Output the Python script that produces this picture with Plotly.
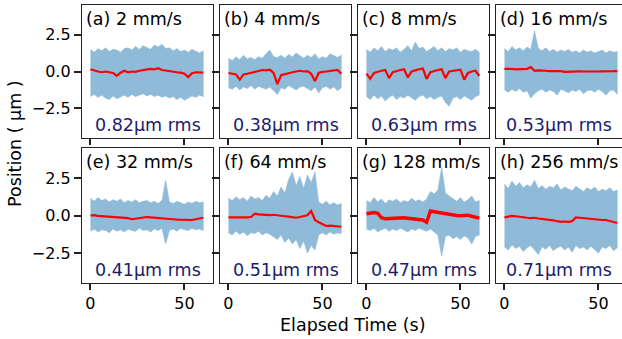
import plotly.graph_objects as go

# ---------------- data ----------------
T = [0, 2, 4, 6, 8, 10, 12, 14, 16, 18, 20, 22, 24, 26, 28, 30,
     32, 34, 36, 38, 40, 42, 44, 46, 48, 50, 52, 54, 56, 58, 60]

labels = ["(a) 2 mm/s", "(b) 4 mm/s", "(c) 8 mm/s", "(d) 16 mm/s",
          "(e) 32 mm/s", "(f) 64 mm/s", "(g) 128 mm/s", "(h) 256 mm/s"]
rms_text = ["0.82μm rms", "0.38μm rms", "0.63μm rms", "0.53μm rms",
            "0.41μm rms", "0.51μm rms", "0.47μm rms", "0.71μm rms"]

# upper / lower envelope of the raw (blue) trace
a_up = [1.5,1.3,1.55,1.4,1.6,1.35,1.5,1.45,1.3,1.55,1.6,1.45,1.7,1.5,1.75,1.6,1.5,1.8,1.65,1.85,1.55,1.6,1.4,1.55,1.35,1.45,1.3,1.5,1.35,1.25,1.4]
a_lo = [-1.7,-1.55,-1.75,-1.6,-1.8,-1.9,-1.65,-1.85,-1.7,-1.6,-1.75,-1.55,-1.7,-1.6,-1.5,-1.65,-1.55,-1.7,-1.6,-1.75,-1.65,-1.8,-1.7,-1.9,-1.75,-1.95,-1.8,-1.65,-1.75,-1.6,-1.7]
b_up = [0.9,0.75,1.0,0.8,1.1,0.85,0.95,0.8,1.0,0.9,1.2,1.45,1.0,0.95,1.1,0.9,1.15,1.0,1.25,1.05,0.9,1.1,0.95,1.2,0.85,1.0,0.9,1.2,1.05,0.95,1.1]
b_lo = [-1.1,-1.2,-1.0,-1.25,-1.05,-1.15,-0.95,-1.2,-1.0,-1.1,-1.2,-1.05,-1.3,-1.56,-1.1,-1.2,-0.95,-1.1,-1.25,-1.05,-1.0,-1.15,-1.3,-1.05,-1.45,-1.1,-1.0,-1.2,-1.05,-1.3,-1.1]
c_up = [1.5,1.3,1.6,1.4,1.7,1.35,1.55,1.45,1.6,1.3,1.5,1.75,1.4,2.0,1.55,1.65,1.35,1.5,1.7,1.4,1.6,1.35,1.55,1.45,1.6,1.3,1.5,1.4,1.35,1.5,1.3]
c_lo = [-1.7,-1.9,-1.6,-1.85,-1.65,-2.0,-1.75,-1.6,-1.9,-1.7,-1.8,-1.6,-1.75,-1.95,-1.7,-1.6,-1.85,-1.7,-1.9,-1.75,-1.65,-2.1,-2.35,-1.8,-1.7,-1.9,-1.65,-1.8,-1.95,-1.7,-1.6]
d_up = [1.55,1.35,1.7,1.45,1.6,1.4,1.65,1.5,2.75,1.55,1.4,1.6,1.35,1.5,1.3,1.45,1.35,1.5,1.3,1.4,1.25,1.45,1.3,1.4,1.25,1.35,1.45,1.25,1.4,1.3,1.35]
d_lo = [-1.25,-1.4,-1.2,-1.35,-1.15,-1.4,-1.3,-1.8,-1.5,-1.3,-1.2,-1.4,-1.25,-1.35,-1.6,-1.2,-1.3,-1.45,-1.25,-1.35,-1.2,-1.5,-1.3,-1.25,-1.4,-1.2,-1.35,-1.6,-1.3,-1.25,-1.55]
e_up = [1.15,0.95,1.2,1.0,1.1,0.9,1.05,0.95,1.1,0.85,1.0,0.9,1.05,0.85,0.95,1.0,0.85,0.95,0.8,1.0,2.35,0.9,0.8,0.95,0.85,0.75,0.9,0.8,0.95,0.85,0.9]
e_lo = [-1.05,-0.9,-1.1,-0.95,-1.0,-1.15,-0.9,-1.05,-0.95,-1.1,-0.9,-1.0,-1.05,-0.85,-1.0,-0.95,-1.1,-0.9,-1.0,-0.85,-1.9,-1.0,-0.9,-1.05,-0.85,-0.95,-1.0,-0.85,-0.95,-0.9,-1.0]
f_up = [1.15,1.0,1.25,1.05,1.2,0.95,1.3,1.1,1.2,1.0,1.35,1.15,1.6,1.3,1.9,1.5,2.4,2.9,2.0,2.6,1.8,2.7,2.2,2.9,0.9,0.75,0.95,0.7,0.85,0.7,0.8]
f_lo = [-1.15,-1.3,-1.05,-1.25,-1.1,-1.35,-1.15,-1.2,-1.05,-1.3,-1.15,-1.25,-1.4,-1.6,-1.3,-1.8,-1.5,-1.9,-1.6,-2.2,-1.7,-2.5,-2.0,-2.3,-1.3,-1.15,-1.3,-1.1,-1.25,-1.15,-1.2]
g_up = [1.0,0.85,1.2,0.9,1.1,0.8,1.05,0.95,1.1,0.85,1.0,0.9,1.15,0.95,1.05,0.9,1.1,1.6,1.45,1.7,3.2,1.5,1.3,1.1,0.95,1.2,0.9,1.05,1.3,0.9,1.0]
g_lo = [-0.9,-1.0,-0.85,-1.1,-0.95,-0.85,-1.05,-0.9,-1.0,-0.85,-0.95,-1.1,-0.9,-1.0,-0.85,-0.95,-1.05,-0.9,-1.1,-1.3,-2.7,-1.4,-1.3,-1.55,-1.4,-1.6,-1.35,-1.5,-1.9,-1.4,-1.3]
h_up = [2.1,1.8,2.3,1.95,2.2,1.85,2.05,1.9,2.35,1.8,2.0,1.75,1.95,1.85,2.1,1.7,1.9,1.8,1.65,1.95,1.75,1.6,1.85,1.7,1.9,1.6,1.75,1.65,1.85,1.6,1.7]
h_lo = [-2.1,-2.3,-1.95,-2.2,-2.05,-2.4,-2.15,-2.0,-2.3,-2.6,-2.1,-2.25,-2.0,-2.35,-2.15,-2.05,-2.3,-2.1,-2.45,-2.0,-2.2,-2.1,-2.3,-2.05,-2.25,-2.5,-2.1,-2.2,-2.0,-2.35,-2.15]

# smoothed (red) trace
a_red = [0.15,0.05,0.0,-0.05,0.0,-0.05,-0.1,-0.3,-0.08,0.05,-0.05,0.0,-0.02,0.05,0.1,0.12,0.18,0.15,0.22,0.1,0.05,0.02,-0.02,-0.05,-0.08,-0.15,-0.38,-0.12,-0.05,-0.08,-0.07]
b_red = [-0.1,-0.15,-0.2,-0.55,-0.2,-0.15,-0.1,-0.05,0.05,0.1,0.08,0.12,-0.1,-0.85,-0.25,-0.2,-0.15,-0.05,0.0,0.05,0.0,0.02,-0.15,-0.65,-0.1,-0.02,0.0,0.05,0.08,0.1,-0.15]
c_red = [-0.15,-0.5,-0.1,0.0,0.05,0.1,-0.45,-0.05,0.05,0.1,0.15,-0.4,0.0,0.1,0.15,0.2,-0.5,-0.05,0.05,0.1,0.15,-0.45,0.0,0.05,0.1,0.12,-0.55,-0.1,0.0,0.05,-0.3]
d_red = [0.18,0.15,0.17,0.15,0.16,0.15,0.18,0.3,0.05,0.08,0.04,0.05,0.02,0.03,0.0,0.02,-0.02,0.0,-0.02,0.0,0.01,0.0,-0.01,0.0,0.02,0.0,0.01,0.0,0.02,0.02,0.03]
e_red = [0.0,0.02,-0.03,-0.05,-0.05,-0.08,-0.1,-0.12,-0.12,-0.15,-0.18,-0.25,-0.22,-0.15,-0.12,-0.1,-0.12,-0.15,-0.18,-0.2,-0.2,-0.22,-0.25,-0.27,-0.28,-0.3,-0.28,-0.3,-0.25,-0.2,-0.15]
f_red = [-0.12,-0.13,-0.1,-0.12,-0.14,-0.12,-0.1,0.12,0.08,0.05,0.06,0.03,0.05,0.0,-0.02,-0.05,-0.08,-0.1,-0.15,-0.1,-0.03,0.02,0.3,-0.3,-0.45,-0.6,-0.7,-0.68,-0.7,-0.72,-0.75]
g_red = [0.12,0.15,0.2,0.15,-0.15,-0.22,-0.2,-0.18,-0.15,-0.17,-0.15,-0.18,-0.2,-0.22,-0.25,-0.3,-0.45,0.3,0.25,0.2,0.18,0.12,0.08,0.05,0.0,-0.02,0.0,0.02,-0.05,-0.12,-0.18]
h_red = [-0.12,-0.08,-0.03,-0.05,-0.1,-0.12,-0.15,-0.17,-0.15,-0.2,-0.22,-0.25,-0.28,-0.32,-0.38,-0.42,-0.4,-0.42,-0.38,-0.13,-0.15,-0.18,-0.2,-0.22,-0.25,-0.28,-0.3,-0.3,-0.35,-0.42,-0.5]

uppers = [a_up, b_up, c_up, d_up, e_up, f_up, g_up, h_up]
lowers = [a_lo, b_lo, c_lo, d_lo, e_lo, f_lo, g_lo, h_lo]
reds = [a_red, b_red, c_red, d_red, e_red, f_red, g_red, h_red]

y_ticks = [-2.5, 0.0, 2.5]
y_tick_text = ["\u22122.5", "0.0", "2.5"]
x_ticks = [0, 50]

# ---------------- figure ----------------
W, H = 622, 339
L, R, TOP, BOT = 82, 0, 5, 56
pw = W - L - R
ph = H - TOP - BOT
col_px = [(82, 213), (220, 351), (358, 489), (496, 622)]
row_px = [(5, 138), (148, 283)]
px_per_s = 1.88
x_left = -4.5

FONT = "DejaVu Sans"
BLUE = "#8fbbd9"
RED = "#ff0000"
NAVY = "#1c1c6b"
FRAME = "#222222"

fig = go.Figure()
layout = dict(width=W, height=H, margin=dict(l=L, r=R, t=TOP, b=BOT),
              paper_bgcolor="white", plot_bgcolor="white", showlegend=False,
              font=dict(family=FONT, size=16, color="black"))
annotations = []

for i in range(8):
    r, c = divmod(i, 4)
    k = i + 1
    xa = "xaxis" if k == 1 else f"xaxis{k}"
    ya = "yaxis" if k == 1 else f"yaxis{k}"
    xr = "x" if k == 1 else f"x{k}"
    yr = "y" if k == 1 else f"y{k}"
    x0p, x1p = col_px[c]
    y0p, y1p = row_px[r]
    xdom = [(x0p - L) / pw, min(1.0, (x1p - L) / pw)]
    ydom = [(H - BOT - y1p) / ph, (H - BOT - y0p) / ph]
    xrange = [x_left, x_left + (x1p - x0p) / px_per_s]

    fig.add_trace(go.Scatter(x=T + T[::-1], y=uppers[i] + lowers[i][::-1],
                             fill="toself", fillcolor=BLUE, mode="lines",
                             line=dict(width=0.6, color=BLUE),
                             xaxis=xr, yaxis=yr, hoverinfo="skip"))
    fig.add_trace(go.Scatter(x=T, y=reds[i], mode="lines",
                             line=dict(color=RED, width=3.4 if i == 6 else 2.2),
                             xaxis=xr, yaxis=yr))

    layout[xa] = dict(domain=xdom, range=xrange, anchor=yr,
                      tickmode="array", tickvals=x_ticks,
                      ticktext=[str(v) for v in x_ticks] if r == 1 else ["", ""],
                      showticklabels=(r == 1),
                      ticks="outside", ticklen=6, tickwidth=1.6, tickcolor=FRAME,
                      showline=True, linecolor=FRAME, linewidth=1.3, mirror=True,
                      showgrid=False, zeroline=False,
                      tickfont=dict(family=FONT, size=16, color="black"))
    layout[ya] = dict(domain=ydom, range=[-4.5, 4.5], anchor=xr,
                      tickmode="array", tickvals=y_ticks, ticktext=y_tick_text,
                      showticklabels=(c == 0),
                      ticks="outside", ticklen=7, tickwidth=1.6, tickcolor=FRAME,
                      showline=True, linecolor=FRAME, linewidth=1.3, mirror=True,
                      showgrid=False, zeroline=False,
                      tickfont=dict(family=FONT, size=16, color="black"))

    annotations.append(dict(text=labels[i], xref=f"{xr} domain", yref=f"{yr} domain",
                            x=0.0, y=1.0, xanchor="left", yanchor="top",
                            xshift=2, yshift=-2, showarrow=False,
                            font=dict(family=FONT, size=17.5, color="black")))
    annotations.append(dict(text=rms_text[i], xref=f"{xr} domain", yref=f"{yr} domain",
                            x=0.5, y=0.0, xanchor="center", yanchor="bottom",
                            yshift=1, showarrow=False,
                            font=dict(family=FONT, size=17.5, color=NAVY)))

annotations.append(dict(text="Elapsed Time (s)", xref="paper", yref="paper",
                        x=(352 - L) / pw, y=(H - BOT - 325) / ph,
                        xanchor="center", yanchor="middle", showarrow=False,
                        font=dict(family=FONT, size=17.5, color="black")))
annotations.append(dict(text="Position ( μm )", xref="paper", yref="paper",
                        x=(15 - L) / pw, y=(H - BOT - 144) / ph, textangle=-90,
                        xanchor="center", yanchor="middle", showarrow=False,
                        font=dict(family=FONT, size=17.5, color="black")))
layout["annotations"] = annotations
fig.update_layout(**layout)
fig.write_html("out.html", config={"displayModeBar": False},
               post_script="document.body.style.margin='0px';document.body.style.overflow='hidden';")
